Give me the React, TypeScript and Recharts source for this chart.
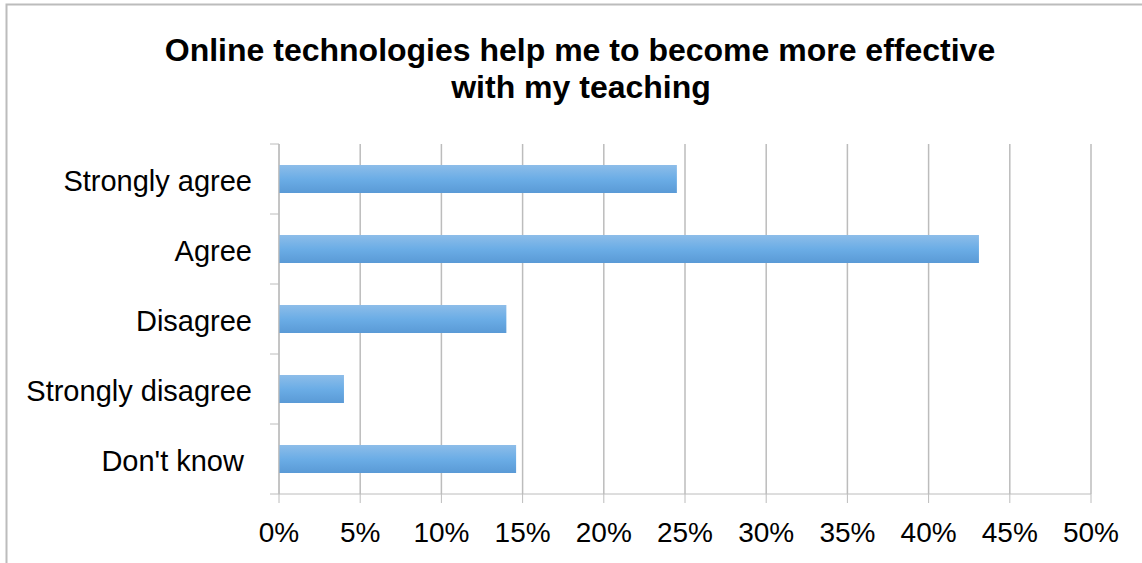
import { BarChart, Bar, XAxis, YAxis, CartesianGrid } from 'recharts'

const categories = ['Strongly agree', 'Agree', 'Disagree', 'Strongly disagree', "Don't know "]
const percentages = [24.5, 43.1, 14.0, 4.0, 14.6]
const xTicks = [0, 5, 10, 15, 20, 25, 30, 35, 40, 45, 50]

const data = categories.map((name, i) => ({ name, value: percentages[i] }))

const GRAY = '#bcbcbc'
const FONT = 'Liberation Sans, Arial, sans-serif'

function CategoryTick(props: any) {
  const { x, y, payload, index } = props
  const half = payload?.offset ?? 35
  const last = index === categories.length - 1
  return (
    <g>
      <line x1={x - 9} x2={x} y1={y - half} y2={y - half} stroke={GRAY} />
      {last && <line x1={x - 9} x2={x} y1={y + half} y2={y + half} stroke={GRAY} />}
      <text
        x={x - 27}
        y={y + 12}
        textAnchor="end"
        fontSize={29}
        fill="#000"
        fontFamily={FONT}
        style={{ whiteSpace: 'pre' }}
      >
        {payload.value}
      </text>
    </g>
  )
}

export default function App() {
  return (
    <div style={{ position: 'absolute', left: 0, top: 0, width: 1142, height: 563, background: '#fff', overflow: 'hidden' }}>
      <svg width={1142} height={563} style={{ position: 'absolute', left: 0, top: 0 }}>
        <rect x={6.5} y={4.5} width={1150} height={600} fill="none" stroke={GRAY} strokeWidth={2} />
        <text x={580} y={61} textAnchor="middle" fontSize={32} fontWeight="bold" fontFamily={FONT}>
          Online technologies help me to become more effective
        </text>
        <text x={581} y={98} textAnchor="middle" fontSize={32} fontWeight="bold" fontFamily={FONT}>
          with my teaching
        </text>
      </svg>
      <div style={{ position: 'absolute', left: 0, top: 0 }}>
        <BarChart
          width={1142}
          height={563}
          data={data}
          layout="vertical"
          margin={{ top: 144, right: 51, bottom: 0, left: 0 }}
          barCategoryGap="30%"
        >
          <defs>
            <linearGradient id="barGrad" x1="0" y1="0" x2="0" y2="1">
              <stop offset="0%" stopColor="#8dbde9" />
              <stop offset="50%" stopColor="#6badE6" />
              <stop offset="100%" stopColor="#5a9ad6" />
            </linearGradient>
          </defs>
          <CartesianGrid horizontal={false} stroke={GRAY} strokeWidth={1.5} />
          <XAxis
            type="number"
            domain={[0, 50]}
            ticks={xTicks}
            interval={0}
            tickFormatter={(v) => `${v}%`}
            height={69}
            tickSize={9}
            tickMargin={19}
            stroke={GRAY}
            tick={{ fill: '#000', fontSize: 28, fontFamily: FONT }}
          />
          <YAxis
            type="category"
            dataKey="name"
            width={279}
            tickLine={false}
            tickSize={0}
            tickMargin={0}
            stroke={GRAY}
            interval={0}
            tick={<CategoryTick />}
          />
          <Bar dataKey="value" fill="url(#barGrad)" isAnimationActive={false} />
        </BarChart>
      </div>
    </div>
  )
}
